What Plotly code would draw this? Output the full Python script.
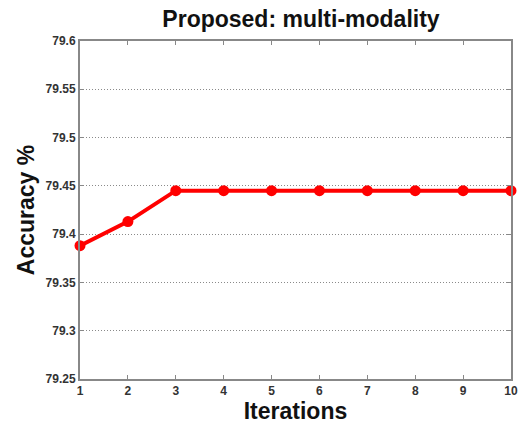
import plotly.graph_objects as go

iterations = [1, 2, 3, 4, 5, 6, 7, 8, 9, 10]
accuracy = [79.388, 79.413, 79.445, 79.445, 79.445, 79.445, 79.445, 79.445, 79.445, 79.445]
y_ticks = [79.25, 79.3, 79.35, 79.4, 79.45, 79.5, 79.55, 79.6]
y_ticklabels = ["79.25", "79.3", "79.35", "79.4", "79.45", "79.5", "79.55", "79.6"]

fig = go.Figure()
fig.add_trace(go.Scatter(
    x=iterations, y=accuracy, mode="lines+markers",
    line=dict(color="#ff0000", width=4),
    marker=dict(color="#ff0000", size=11, symbol="circle"),
    cliponaxis=False, showlegend=False,
))

axis_common = dict(
    showline=True, linecolor="#888888", linewidth=2, mirror="ticks",
    ticks="inside", ticklen=4, tickcolor="#888888", tickwidth=1,
    zeroline=False,
    tickfont=dict(family="Liberation Sans", size=12, color="#333333", weight="bold"),
)

fig.update_xaxes(
    range=[1, 10], tickvals=iterations, showgrid=False,
    title=dict(text="Iterations", font=dict(family="Liberation Sans", size=23, color="#111111", weight="bold"), standoff=1),
    **axis_common,
)
fig.update_yaxes(
    range=[79.25, 79.6], tickvals=y_ticks, ticktext=y_ticklabels,
    showgrid=True, gridcolor="#8a8a8a", griddash="1px,2px", gridwidth=1,
    title=dict(text="Accuracy %", font=dict(family="Liberation Sans", size=23, color="#111111", weight="bold"), standoff=5),
    **axis_common,
)

fig.update_layout(
    width=530, height=428,
    margin=dict(l=80, r=15, t=41, b=45),
    paper_bgcolor="white", plot_bgcolor="white",
    title=dict(text="Proposed: multi-modality", x=301/530, xanchor="center", y=0.975, yanchor="top",
               font=dict(family="Liberation Sans", size=23, color="#111111", weight="bold")),
)

fig.write_html("out.html")
